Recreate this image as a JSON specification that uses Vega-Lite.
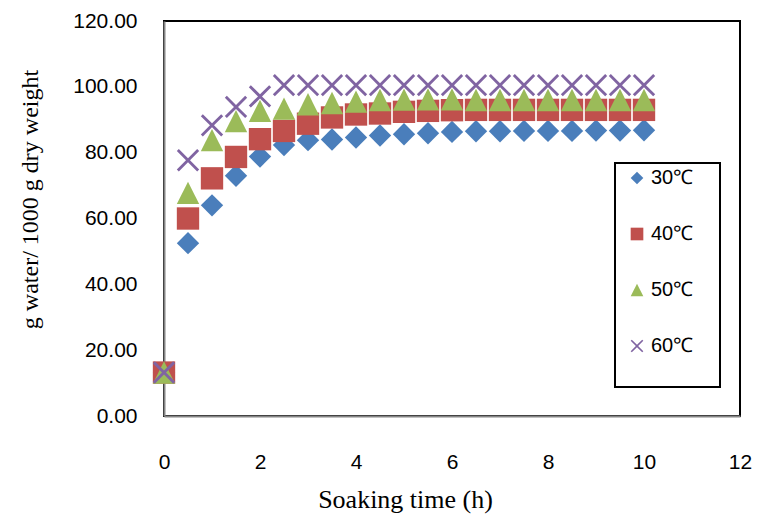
{
  "$schema": "https://vega.github.io/schema/vega-lite/v6.json",
  "width": 576,
  "height": 395,
  "autosize": {"type": "none"},
  "padding": {"left": 164, "top": 21, "right": 25, "bottom": 99},
  "background": "white",
  "config": {
    "view": {"stroke": "black", "strokeWidth": 2},
    "font": "Liberation Sans",
    "legend": {"strokeWidth": 2}
  },
  "data": {
    "values": [
      {"t": 0, "series": "30℃", "v": 13.2},
      {"t": 0.5, "series": "30℃", "v": 52.5},
      {"t": 1, "series": "30℃", "v": 64.0},
      {"t": 1.5, "series": "30℃", "v": 73.0},
      {"t": 2, "series": "30℃", "v": 78.8},
      {"t": 2.5, "series": "30℃", "v": 82.3},
      {"t": 3, "series": "30℃", "v": 83.8},
      {"t": 3.5, "series": "30℃", "v": 84.0},
      {"t": 4, "series": "30℃", "v": 84.6},
      {"t": 4.5, "series": "30℃", "v": 85.2},
      {"t": 5, "series": "30℃", "v": 85.6},
      {"t": 5.5, "series": "30℃", "v": 85.9},
      {"t": 6, "series": "30℃", "v": 86.3},
      {"t": 6.5, "series": "30℃", "v": 86.5},
      {"t": 7, "series": "30℃", "v": 86.5},
      {"t": 7.5, "series": "30℃", "v": 86.6},
      {"t": 8, "series": "30℃", "v": 86.6},
      {"t": 8.5, "series": "30℃", "v": 86.6},
      {"t": 9, "series": "30℃", "v": 86.7},
      {"t": 9.5, "series": "30℃", "v": 86.7},
      {"t": 10, "series": "30℃", "v": 86.8},
      {"t": 0, "series": "40℃", "v": 13.2},
      {"t": 0.5, "series": "40℃", "v": 60.0},
      {"t": 1, "series": "40℃", "v": 72.2},
      {"t": 1.5, "series": "40℃", "v": 78.7},
      {"t": 2, "series": "40℃", "v": 84.1},
      {"t": 2.5, "series": "40℃", "v": 86.6},
      {"t": 3, "series": "40℃", "v": 88.8},
      {"t": 3.5, "series": "40℃", "v": 90.7},
      {"t": 4, "series": "40℃", "v": 91.6},
      {"t": 4.5, "series": "40℃", "v": 91.9},
      {"t": 5, "series": "40℃", "v": 92.4},
      {"t": 5.5, "series": "40℃", "v": 92.7},
      {"t": 6, "series": "40℃", "v": 92.9},
      {"t": 6.5, "series": "40℃", "v": 93.0},
      {"t": 7, "series": "40℃", "v": 93.0},
      {"t": 7.5, "series": "40℃", "v": 93.0},
      {"t": 8, "series": "40℃", "v": 93.0},
      {"t": 8.5, "series": "40℃", "v": 93.0},
      {"t": 9, "series": "40℃", "v": 93.0},
      {"t": 9.5, "series": "40℃", "v": 93.0},
      {"t": 10, "series": "40℃", "v": 93.0},
      {"t": 0, "series": "50℃", "v": 13.2},
      {"t": 0.5, "series": "50℃", "v": 67.8},
      {"t": 1, "series": "50℃", "v": 83.8},
      {"t": 1.5, "series": "50℃", "v": 89.6},
      {"t": 2, "series": "50℃", "v": 92.7},
      {"t": 2.5, "series": "50℃", "v": 93.4},
      {"t": 3, "series": "50℃", "v": 94.7},
      {"t": 3.5, "series": "50℃", "v": 95.1},
      {"t": 4, "series": "50℃", "v": 95.5},
      {"t": 4.5, "series": "50℃", "v": 96.0},
      {"t": 5, "series": "50℃", "v": 96.1},
      {"t": 5.5, "series": "50℃", "v": 96.2},
      {"t": 6, "series": "50℃", "v": 96.2},
      {"t": 6.5, "series": "50℃", "v": 96.0},
      {"t": 7, "series": "50℃", "v": 96.0},
      {"t": 7.5, "series": "50℃", "v": 96.0},
      {"t": 8, "series": "50℃", "v": 96.0},
      {"t": 8.5, "series": "50℃", "v": 96.0},
      {"t": 9, "series": "50℃", "v": 96.0},
      {"t": 9.5, "series": "50℃", "v": 96.0},
      {"t": 10, "series": "50℃", "v": 96.0},
      {"t": 0, "series": "60℃", "v": 13.2},
      {"t": 0.5, "series": "60℃", "v": 77.7},
      {"t": 1, "series": "60℃", "v": 88.3},
      {"t": 1.5, "series": "60℃", "v": 93.9},
      {"t": 2, "series": "60℃", "v": 97.1},
      {"t": 2.5, "series": "60℃", "v": 100.5},
      {"t": 3, "series": "60℃", "v": 100.5},
      {"t": 3.5, "series": "60℃", "v": 100.5},
      {"t": 4, "series": "60℃", "v": 100.5},
      {"t": 4.5, "series": "60℃", "v": 100.5},
      {"t": 5, "series": "60℃", "v": 100.5},
      {"t": 5.5, "series": "60℃", "v": 100.5},
      {"t": 6, "series": "60℃", "v": 100.5},
      {"t": 6.5, "series": "60℃", "v": 100.5},
      {"t": 7, "series": "60℃", "v": 100.5},
      {"t": 7.5, "series": "60℃", "v": 100.5},
      {"t": 8, "series": "60℃", "v": 100.5},
      {"t": 8.5, "series": "60℃", "v": 100.5},
      {"t": 9, "series": "60℃", "v": 100.5},
      {"t": 9.5, "series": "60℃", "v": 100.5},
      {"t": 10, "series": "60℃", "v": 100.5}
    ]
  },
  "mark": {"type": "point", "filled": true, "opacity": 1, "size": 500, "strokeWidth": 0},
  "encoding": {
    "x": {
      "field": "t",
      "type": "quantitative",
      "scale": {"domain": [0, 12], "nice": false, "zero": false},
      "axis": {
        "values": [0, 2, 4, 6, 8, 10, 12],
        "ticks": false,
        "tickSize": 0,
        "grid": false,
        "labelFlush": false,
        "labelPadding": 35,
        "labelFontSize": 21,
        "labelFont": "Liberation Sans",
        "labelColor": "black",
        "domainColor": "#868686",
        "domainWidth": 2,
        "title": "Soaking time (h)",
        "titleFont": "Liberation Serif",
        "titleFontSize": 26,
        "titleFontWeight": "normal",
        "titleColor": "black",
        "titleX": 241,
        "titleY": 91,
        "titleAlign": "center",
        "titleBaseline": "alphabetic"
      }
    },
    "y": {
      "field": "v",
      "type": "quantitative",
      "scale": {"domain": [0, 120], "nice": false},
      "axis": {
        "values": [0, 20, 40, 60, 80, 100, 120],
        "format": ".2f",
        "ticks": false,
        "tickSize": 0,
        "grid": false,
        "labelFlush": false,
        "labelPadding": 27,
        "labelFontSize": 21,
        "labelFont": "Liberation Sans",
        "labelColor": "black",
        "domainColor": "#868686",
        "domainWidth": 2,
        "title": "g water/ 1000 g dry weight",
        "titleFont": "Liberation Serif",
        "titleFontSize": 24,
        "titleFontWeight": "normal",
        "titleColor": "black",
        "titleX": -127,
        "titleY": 178,
        "titleAngle": -90,
        "titleAlign": "center",
        "titleBaseline": "alphabetic"
      }
    },
    "color": {
      "field": "series",
      "type": "nominal",
      "scale": {
        "domain": ["30℃", "40℃", "50℃", "60℃"],
        "range": ["#4A7EBB", "#C0504D", "#9BBB59", "#8064A2"]
      },
      "legend": {
        "orient": "none",
        "legendX": 451,
        "legendY": 142,
        "title": "\u200b\u00a0\u00a0\u00a0\u00a0\u00a0\u00a0\u00a0\u00a0\u00a0\u00a0\u00a0\u00a0\u00a0\u00a0\u00a0\u00a0\u00a0\u200b",
        "titleOrient": "bottom",
        "titleAnchor": "start",
        "titleAlign": "left",
        "titleFontSize": 20,
        "titleFont": "Liberation Sans",
        "titlePadding": 6,
        "padding": 5,
        "strokeColor": "black",
        "fillColor": "white",
        "labelFontSize": 20,
        "labelFont": "Liberation Sans",
        "labelColor": "black",
        "symbolSize": 160,
        "symbolOffset": 7,
        "labelOffset": 4,
        "rowPadding": 36,
        "symbolStrokeWidth": 0
      }
    },
    "shape": {
      "field": "series",
      "type": "nominal",
      "scale": {
        "domain": ["30℃", "40℃", "50℃", "60℃"],
        "range": [
          "M0,-1L1,0L0,1L-1,0Z",
          "M-1,-1L1,-1L1,1L-1,1Z",
          "M0,-1L1,1L-1,1Z",
          "M-1,-0.82L-0.18,0L-1,0.82L-0.82,1L0,0.18L0.82,1L1,0.82L0.18,0L1,-0.82L0.82,-1L0,-0.18L-0.82,-1Z"
        ]
      },
      "legend": {
        "orient": "none",
        "legendX": 451,
        "legendY": 142,
        "title": "\u200b\u00a0\u00a0\u00a0\u00a0\u00a0\u00a0\u00a0\u00a0\u00a0\u00a0\u00a0\u00a0\u00a0\u00a0\u00a0\u00a0\u00a0\u200b",
        "titleOrient": "bottom",
        "titleAnchor": "start",
        "titleAlign": "left",
        "titleFontSize": 20,
        "titleFont": "Liberation Sans",
        "titlePadding": 6,
        "padding": 5,
        "strokeColor": "black",
        "fillColor": "white",
        "labelFontSize": 20,
        "labelFont": "Liberation Sans",
        "labelColor": "black",
        "symbolSize": 160,
        "symbolOffset": 7,
        "labelOffset": 4,
        "rowPadding": 36,
        "symbolStrokeWidth": 0
      }
    }
  }
}
